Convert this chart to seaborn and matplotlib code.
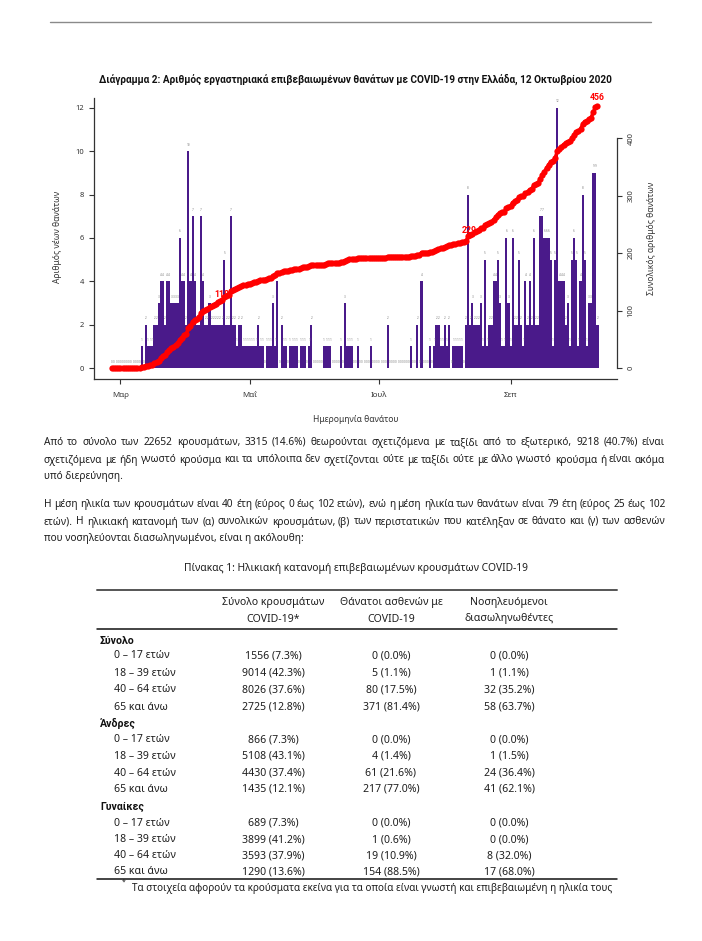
import matplotlib
matplotlib.use("Agg")
import numpy as np
import pandas as pd
import seaborn as sns
import matplotlib.pyplot as plt
from matplotlib.lines import Line2D

W, H = 702, 941

# daily deaths by date of death, 26 Feb - 12 Oct 2020
feb = [0, 0, 0, 0]
mar = [0, 0, 0, 0, 0, 0, 0, 0, 0, 0, 1, 0, 2, 1, 1, 1, 2, 2, 3, 4,
       4, 2, 4, 4, 3, 3, 3, 3, 6, 4, 4]
apr = [2, 10, 4, 7, 4, 2, 2, 7, 4, 2, 2, 3, 2, 2, 2, 2, 2, 2, 5, 2,
       2, 7, 2, 2, 1, 2, 2, 1, 1, 1]
may = [1, 1, 1, 1, 2, 1, 1, 0, 1, 1, 1, 3, 1, 4, 0, 2, 1, 1, 0, 1,
       1, 1, 1, 0, 1, 1, 1, 0, 1, 2, 0]
jun = [0, 0, 0, 0, 1, 1, 1, 1, 0, 0, 0, 0, 1, 0, 3, 1, 1, 1, 0, 0,
       1, 0, 0, 0, 0, 0, 1, 0, 0, 0]
jul = [0, 0, 0, 0, 2, 0, 0, 0, 0, 0, 0, 0, 0, 0, 0, 1, 0, 0, 2, 0,
       4, 0, 0, 0, 1, 0, 1, 2, 2, 1, 1]
aug = [2, 1, 2, 0, 1, 1, 1, 1, 1, 0, 2, 8, 2, 3, 2, 2, 2, 3, 1, 5,
       1, 2, 2, 4, 4, 5, 3, 1, 1, 6, 3]
sep = [1, 6, 2, 2, 5, 2, 1, 4, 2, 4, 2, 6, 2, 2, 7, 7, 6, 6, 6, 5,
       1, 5, 12, 4, 4, 4, 2, 3, 1, 5]
octo = [6, 5, 1, 4, 8, 5, 1, 3, 3, 9, 9, 2]

deaths = feb + mar + apr + may + jun + jul + aug + sep + octo
start = pd.Timestamp("2020-02-26")
month_ticks = ["2020-03-01", "2020-05-01", "2020-07-01", "2020-09-01"]
month_labels = ["Μαρ", "Μαΐ", "Ιουλ", "Σεπ"]
label_dates = ["2020-04-18", "2020-08-12", "2020-10-12"]

df = pd.DataFrame({"day": np.arange(len(deaths)), "deaths": deaths})
df["cum"] = df["deaths"].cumsum()

# text of the page
title = ("Διάγραμμα 2: Αριθμός εργαστηριακά επιβεβαιωμένων θανάτων με COVID-19 "
         "στην Ελλάδα, 12 Οκτωβρίου 2020")
para1 = ["Από το σύνολο των 22652 κρουσμάτων, 3315 (14.6%) θεωρούνται σχετιζόμενα με ταξίδι από το εξωτερικό, 9218 (40.7%) είναι",
         "σχετιζόμενα με ήδη γνωστό κρούσμα και τα υπόλοιπα δεν σχετίζονται ούτε με ταξίδι ούτε με άλλο γνωστό κρούσμα ή είναι ακόμα",
         "υπό διερεύνηση."]
para2 = ["Η μέση ηλικία των κρουσμάτων είναι 40 έτη (εύρος 0 έως 102 ετών), ενώ η μέση ηλικία των θανάτων είναι 79 έτη (εύρος 25 έως 102",
         "ετών). Η ηλικιακή κατανομή των (α) συνολικών κρουσμάτων, (β) των περιστατικών που κατέληξαν σε θάνατο και (γ) των ασθενών",
         "που νοσηλεύονται διασωληνωμένοι, είναι η ακόλουθη:"]
caption = "Πίνακας 1: Ηλικιακή κατανομή επιβεβαιωμένων κρουσμάτων COVID-19"
headers = [["Σύνολο κρουσμάτων", "COVID-19*"],
           ["Θάνατοι ασθενών με", "COVID-19"],
           ["Νοσηλευόμενοι", "διασωληνωθέντες"]]
groups = ["Σύνολο", "Άνδρες", "Γυναίκες"]
age_groups = ["0 – 17 ετών", "18 – 39 ετών", "40 – 64 ετών", "65 και άνω"]
cases = [["1556 (7.3%)", "9014 (42.3%)", "8026 (37.6%)", "2725 (12.8%)"],
         ["866 (7.3%)", "5108 (43.1%)", "4430 (37.4%)", "1435 (12.1%)"],
         ["689 (7.3%)", "3899 (41.2%)", "3593 (37.9%)", "1290 (13.6%)"]]
deaths_tab = [["0 (0.0%)", "5 (1.1%)", "80 (17.5%)", "371 (81.4%)"],
              ["0 (0.0%)", "4 (1.4%)", "61 (21.6%)", "217 (77.0%)"],
              ["0 (0.0%)", "1 (0.6%)", "19 (10.9%)", "154 (88.5%)"]]
icu_tab = [["0 (0.0%)", "1 (1.1%)", "32 (35.2%)", "58 (63.7%)"],
           ["0 (0.0%)", "1 (1.5%)", "24 (36.4%)", "41 (62.1%)"],
           ["0 (0.0%)", "0 (0.0%)", "8 (32.0%)", "17 (68.0%)"]]
footnote = "Τα στοιχεία αφορούν τα κρούσματα εκείνα για τα οποία είναι γνωστή και επιβεβαιωμένη η ηλικία τους"

sns.set_theme(style="white")
# one family only: every glyph used here is in Noto Sans
plt.rcParams["font.family"] = "Noto Sans"
BOLD = "Roboto"

fig = plt.figure(figsize=(W / 100, H / 100), dpi=100)
renderer = fig.canvas.get_renderer()
TXT = "#1e1e1e"


def fx(x):
    return x / W


def fy(y):
    return 1 - y / H


def width_of(s, size, **kw):
    t = fig.text(0, 0, s, fontsize=size, **kw)
    w = t.get_window_extent(renderer).width
    t.remove()
    return w


def fit(s, width, **kw):
    return 10 * width / width_of(s, 10, **kw)


def justify(line, y, x0, x1, size, **kw):
    words = line.split()
    widths = [width_of(w, size, **kw) for w in words]
    gap = (x1 - x0 - sum(widths)) / (len(words) - 1)
    x = x0
    for w, wd in zip(words, widths):
        fig.text(fx(x), fy(y), w, fontsize=size, va="baseline", color=TXT, **kw)
        x += wd + gap


# top rule of the page
fig.add_artist(Line2D([fx(50), fx(651)], [fy(22), fy(22)], color="#8a8a8a", lw=1))

# ---- chart ----
ax = fig.add_axes([fx(94), fy(379), (617 - 94) / W, (379 - 98) / H])
sns.barplot(data=df, x="day", y="deaths", color="#4a1a8a", saturation=1,
            width=1.0, linewidth=0, ax=ax)
for d, v in zip(df["day"], df["deaths"]):
    ax.text(d, v + 0.3, str(v), fontsize=2.2, color="#7f7f7f",
            ha="center", va="center")

ax.set_xlim(-8.5, 238.2)
ax.set_ylim(-0.5, 12.45)
tick_pos = [(pd.Timestamp(t) - start).days for t in month_ticks]
ax.set_xticks(tick_pos)
ax.set_xticklabels(month_labels)
ax.set_yticks(range(0, 13, 2))
ax.set_xlabel("")
ax.set_ylabel("")
sz_tick = fit("Μαρ", 17)
ax.tick_params(axis="x", bottom=True, length=3.6, width=0.8, pad=6, labelsize=sz_tick,
               colors="#333333")
ax.tick_params(axis="y", left=True, length=3.6, width=0.8, pad=3.5, labelsize=sz_tick * 0.95,
               colors="#333333")
for s in ["top", "right"]:
    ax.spines[s].set_visible(False)
for s in ["left", "bottom"]:
    ax.spines[s].set_color("#333333")
    ax.spines[s].set_linewidth(0.9)

ax2 = ax.twinx()
sns.lineplot(data=df, x="day", y="cum", ax=ax2, color="red", marker="o",
             markersize=4.5, markeredgewidth=0, linewidth=2.5)
ax2.set_ylim(-19.2, 470)
ax2.set_yticks(range(0, 401, 100))
ax2.set_ylabel("")
ax2.set_xlabel("")
ax2.tick_params(axis="y", right=True, length=3.6, width=0.8, pad=4, labelsize=sz_tick * 0.95,
                colors="#333333", labelrotation=90)
for lab in ax2.get_yticklabels():
    lab.set_va("center")
for s in ["top", "left", "bottom"]:
    ax2.spines[s].set_visible(False)
ax2.spines["right"].set_bounds(0, 400)
ax2.spines["right"].set_color("#333333")
ax2.spines["right"].set_linewidth(0.9)
ax2.grid(False)
ax.grid(False)

for i, t in enumerate(label_dates):
    d = (pd.Timestamp(t) - start).days
    c = int(df.loc[d, "cum"])
    ax2.annotate(str(c), (d, c), xytext=(1 if i == 1 else 0, 6 if i == 2 else 4),
                 textcoords="offset points", ha="center", va="center",
                 color="red", fontsize=6.3, fontweight="bold", family=BOLD)

sz_lab = fit("Αριθμός νέων θανάτων", 92)
fig.text(fx(57), fy(237), "Αριθμός νέων θανάτων", rotation=90, ha="center", va="center",
         fontsize=sz_lab, color="#333333")
fig.text(fx(652), fy(238), "Συνολικός αριθμός θανάτων", rotation=90, ha="center", va="center",
         fontsize=sz_lab, color="#333333")
fig.text(fx(356), fy(419), "Ημερομηνία θανάτου", ha="center", va="center",
         fontsize=sz_lab, color="#333333")
sz_title = fit(title, 513, fontweight="bold", family=BOLD)
fig.text(fx(355), fy(79), title, ha="center", va="center", fontsize=sz_title,
         fontweight="bold", family=BOLD, color="#111111")

# ---- paragraphs ----
sz_body = fit(para2[2], 260)
for lines, ys in [(para1, [441.3, 459, 476]), (para2, [503.5, 521, 538])]:
    for k, (line, y) in enumerate(zip(lines, ys)):
        if k < 2:
            justify(line, y + 3.5, 44, 665, sz_body)
        else:
            fig.text(fx(44), fy(y + 3.5), line, fontsize=sz_body, va="baseline", color=TXT)

# ---- table ----
sz_cap = fit(caption, 343)
fig.text(fx(356), fy(568.5), caption, ha="center", va="center", fontsize=sz_cap, color=TXT)
fig.add_artist(Line2D([fx(97), fx(617)], [fy(590), fy(590)], color="#555555", lw=1.4))
fig.add_artist(Line2D([fx(97), fx(617)], [fy(629), fy(629)], color="#111111", lw=1.1))
fig.add_artist(Line2D([fx(97), fx(617)], [fy(879), fy(879)], color="#111111", lw=1.1))

sz_tab = fit(headers[0][0], 102)
col_x = [273.5, 391, 509]
for cx, (h1, h2) in zip(col_x, headers):
    fig.text(fx(cx), fy(602.6), h1, ha="center", va="center", fontsize=sz_tab, color=TXT)
    fig.text(fx(cx), fy(619), h2, ha="center", va="center", fontsize=sz_tab, color=TXT)

group_y = [641, 723, 806]
row_y = [[655, 672, 689, 706], [739, 755.5, 772, 788], [822, 839, 855, 871]]
for g, gy, rys, c1, c2, c3 in zip(groups, group_y, row_y, cases, deaths_tab, icu_tab):
    fig.text(fx(100), fy(gy + 3.5), g, fontsize=sz_tab, fontweight="bold", family=BOLD,
             va="baseline", color="#111111")
    for age, ry, a, b, c in zip(age_groups, rys, c1, c2, c3):
        fig.text(fx(114), fy(ry + 3.5), age, fontsize=sz_tab, va="baseline", color=TXT)
        for cx, val in zip(col_x, [a, b, c]):
            fig.text(fx(cx), fy(ry + 3.5), val, fontsize=sz_tab, ha="center", va="baseline",
                     color=TXT)

sz_foot = fit(footnote, 479)
fig.text(fx(122), fy(884), "*", fontsize=sz_foot * 0.7, va="baseline", color=TXT)
fig.text(fx(132), fy(891.5), footnote, fontsize=sz_foot, va="baseline", color=TXT)

fig.savefig("out.png", dpi=100)
